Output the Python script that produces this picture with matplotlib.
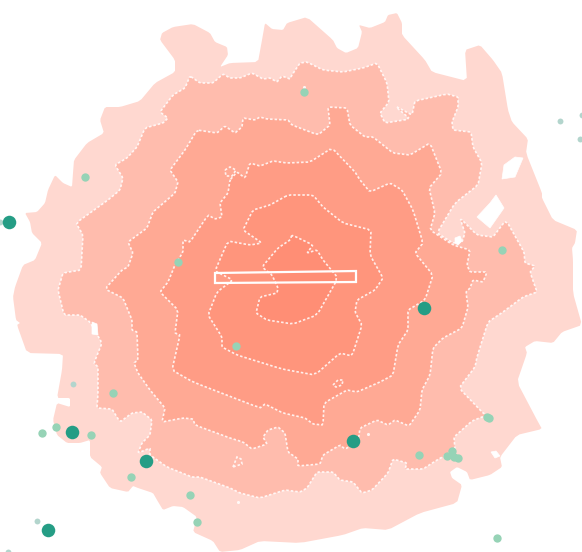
from matplotlib import pyplot as plt
from matplotlib.patches import Polygon

# contour bands, outlines in pixel coordinates
band1 = [(175,72),(175,60),(160,40),(162,33),(173,27),(193,24),(210,33),(215,42),(227,47),(228,55),
         (220,67),(230,63),(258,62),(262,40),(265,23),(272,29),(283,30),(287,23),(307,17),(333,40),
         (337,48),(346,53),(358,48),(362,32),(359,25),(370,28),(385,22),(388,15),(397,13),(402,23),
         (402,35),(425,60),(432,72),(467,81),(465,50),(480,45),(493,60),(502,73),(508,110),(512,122),
         (528,139),(526,153),(542,193),(542,198),(553,220),(577,230),(575,243),(572,248),(573,260),
         (573,293),(582,325),(562,332),(553,343),(535,341),(525,347),(527,353),(517,382),(537,420),
         (542,429),(517,435),(500,457),(502,467),(490,475),(470,480),(467,472),(457,467),(450,472),
         (452,478),(462,485),(457,503),(420,513),(388,530),(363,528),(343,535),(300,543),(260,541),
         (240,550),(220,552),(213,541),(193,532),(197,517),(183,507),(173,506),(163,510),(157,500),
         (153,493),(138,488),(133,486),(128,492),(110,488),(100,473),(102,467),(90,457),(90,440),
         (80,443),(67,443),(57,435),(53,420),(57,403),(70,407),(70,398),(57,398),(62,370),(63,354),
         (27,353),(17,325),(20,323),(16,320),(13,297),(15,287),(23,265),(35,260),(42,243),(32,233),
         (30,222),(25,213),(37,212),(45,203),(48,190),(55,175),(63,183),(72,187),(73,173),(74,160),
         (87,143),(104,133),(100,120),(105,107),(120,107),(140,101),(155,83)]

band2 = [(190,76),(200,83),(213,83),(223,74),(230,78),(240,78),(252,73),(263,79),(270,78),(277,82),
         (282,76),(290,79),(292,75),(300,63),(307,62),(323,70),(343,72),(363,68),(377,63),(387,83),
         (389,102),(380,113),(385,123),(410,119),(395,106),(412,115),(415,101),(447,94),(458,97),
         (458,107),(452,122),(453,130),(471,132),(473,147),(482,163),(478,185),(455,203),(437,233),
         (453,243),(462,242),(465,233),(460,218),(477,235),(493,237),(506,220),(524,252),(525,263),
         (535,266),(530,272),(537,292),(523,297),(503,312),(488,322),(477,357),(475,367),(459,388),
         (483,413),(487,415),(472,421),(454,437),(455,450),(437,460),(423,469),(405,469),(407,463),
         (393,459),(388,473),(372,490),(362,493),(353,482),(340,480),(333,472),(317,472),(307,488),
         (300,492),(285,490),(260,498),(240,493),(230,488),(200,477),(192,477),(167,467),(150,455),
         (150,448),(138,453),(142,443),(150,435),(152,420),(142,412),(132,413),(120,422),(112,409),
         (97,408),(98,393),(98,367),(94,363),(102,343),(90,322),(80,315),(64,315),(58,290),(63,273),
         (81,270),(83,235),(76,223),(108,200),(120,190),(123,178),(115,165),(127,158),(137,147),
         (145,128),(163,123),(168,118),(160,112),(173,95),(185,88)]

band3 = [(197,130),(217,133),(225,126),(235,133),(242,127),(243,118),(255,120),(260,117),(267,119),
         (288,120),(292,125),(318,135),(330,125),(328,107),(347,108),(350,125),(365,137),(373,137),
         (393,153),(410,155),(430,143),(442,173),(429,188),(435,213),(430,230),(453,245),(470,250),
         (467,265),(470,272),(487,272),(483,282),(473,280),(470,288),(466,292),(468,307),(462,328),
         (443,338),(433,348),(430,375),(422,390),(420,410),(409,426),(395,420),(388,425),(377,420),
         (360,428),(358,442),(345,449),(340,445),(323,455),(320,464),(298,466),(298,459),(288,452),
         (285,433),(278,427),(268,430),(263,437),(267,444),(252,449),(243,442),(230,438),(195,425),
         (193,419),(183,418),(162,422),(165,408),(150,390),(138,373),(134,363),(138,360),(137,332),
         (132,330),(132,320),(123,298),(105,289),(122,270),(128,267),(133,253),(128,242),(147,228),
         (153,212),(167,200),(175,193),(178,182),(170,170),(185,150)]

band4 = [(230,180),(237,172),(245,178),(250,163),(260,166),(273,161),(287,163),(310,162),(332,148),
         (355,172),(360,180),(370,192),(390,183),(402,190),(413,210),(423,243),(415,253),(433,275),
         (425,300),(408,310),(408,330),(398,345),(393,375),(380,382),(357,392),(347,390),(324,403),
         (323,425),(313,424),(305,418),(283,413),(265,404),(260,408),(193,382),(172,370),(180,335),
         (175,333),(178,310),(160,292),(168,282),(175,265),(183,252),(183,240),(190,242),(208,215),
         (215,219),(222,217),(220,203),(228,193)]

band5 = [(288,195),(270,205),(253,210),(243,230),(262,243),(250,245),(228,241),(215,271),(233,280),
         (217,292),(208,315),(222,337),(222,347),(237,355),(282,369),(315,375),(340,353),(352,356),
         (362,325),(355,312),(357,300),(375,290),(383,278),(370,255),(371,230),(343,223),(323,207),
         (313,195)]

band6 = [(292,235),(290,240),(278,248),(262,267),(272,275),(278,288),(277,293),(260,297),(256,313),
         (267,320),(293,324),(317,315),(338,278),(323,260),(317,250),(307,253),(313,245)]

band_colors = ['#ffd8d0', '#ffbcad', '#ffa994', '#ff9c85', '#ff957c', '#ff8e75']

# white gaps in the map
hole1 = [(515,157),(523,158),(515,177),(502,179),(504,165)]
hole2 = [(496,195),(504,208),(490,228),(477,217),(490,203)]
hole3 = [(455,238),(460,236),(462,241),(458,245),(455,243)]
hole4 = [(92,322),(97,324),(98,335),(92,334)]
hole5 = [(491,452),(496,451),(500,456),(495,458)]

# small dashed loops
loop1 = [(225,170),(230,167),(236,170),(232,176),(226,176)]
loop2 = [(333,385),(338,380),(343,380),(342,385),(336,387)]
loop3 = [(233,467),(237,457),(241,459),(242,464)]

# specks of white
speck_x = [304, 368, 238]
speck_y = [87, 434, 502]

# the white box in the middle
box = [(215,273),(356,271),(356,282),(215,283)]

# towns, three sizes
big_x = [9, 424, 72, 146, 353, 48]
big_y = [222, 308, 432, 461, 441, 530]
mid_x = [85, 304, 178, 236, 502, 113, 42, 56, 91, 131, 190, 197, 419, 487, 489, 497, 447, 452, 454, 458]
mid_y = [177, 92, 262, 346, 250, 393, 433, 427, 435, 477, 495, 522, 455, 417, 418, 538, 456, 451, 457, 458]
small_x = [73, 37, 560, 580, 582, 0, 8]
small_y = [384, 521, 121, 139, 115, 222, 552]


def soften(points, cut=0.1):
    # cut the corners once so the outline is less angular
    out = []
    for i, (x0, y0) in enumerate(points):
        x1, y1 = points[(i + 1) % len(points)]
        out.append((x0 + cut * (x1 - x0), y0 + cut * (y1 - y0)))
        out.append((x1 - cut * (x1 - x0), y1 - cut * (y1 - y0)))
    return out


fig = plt.figure(figsize=(5.82, 5.52), dpi=100)
ax = fig.add_axes([0, 0, 1, 1])
ax.set_xlim(0, 582)
ax.set_ylim(552, 0)
ax.axis('off')

dash = (0, (1.5, 1.2))
for i, band in enumerate([band1, band2, band3, band4, band5, band6]):
    outline = soften(band)
    ax.add_patch(Polygon(outline, closed=True, facecolor=band_colors[i], edgecolor='none', zorder=i + 1))
    if i > 0:
        ax.add_patch(Polygon(outline, closed=True, fill=False, edgecolor='white', alpha=0.85,
                             linewidth=1.2, linestyle=dash, zorder=i + 1))

for hole in [hole1, hole2, hole3, hole4, hole5]:
    ax.add_patch(Polygon(hole, closed=True, facecolor='white', edgecolor='white', linewidth=0.5, zorder=8))

for loop in [loop1, loop2, loop3]:
    ax.add_patch(Polygon(loop, closed=True, fill=False, edgecolor='white', alpha=0.85,
                         linewidth=1.2, linestyle=dash, zorder=8))

ax.add_patch(Polygon(box, closed=True, fill=False, edgecolor='white', linewidth=1.6, zorder=9))

ax.scatter(speck_x, speck_y, s=5, color='white', alpha=0.85, linewidths=0, zorder=8)
ax.scatter(small_x, small_y, s=18, color='#b3d5cd', linewidths=0, zorder=10)
ax.scatter(mid_x, mid_y, s=36, color='#96d3b6', linewidths=0, zorder=11)
ax.scatter(big_x, big_y, s=95, color='#259d85', linewidths=0, zorder=12)

fig.savefig('out.png', dpi=100)
